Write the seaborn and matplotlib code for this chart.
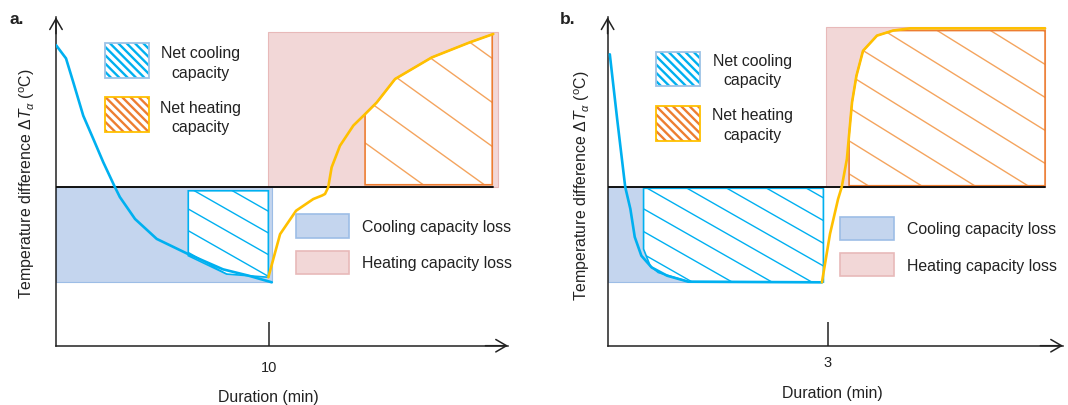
import numpy as np
import matplotlib
matplotlib.use("Agg")
import matplotlib.pyplot as plt
from matplotlib.patches import Polygon, Rectangle
from matplotlib.collections import LineCollection
import seaborn as sns

# ---------------- data (read off the schematic) ----------------
# panel a : 10 min cooling / heating switch
a_cool_t = [0, 0.47, 0.81, 1.28, 1.75, 2.22, 2.77, 3.0, 3.71, 4.73, 6.21, 7.84, 9.04, 10.13]
a_cool_T = [4.49, 4.07, 3.32, 2.26, 1.53, 0.79, 0.0, -0.31, -1.0, -1.63, -2.11, -2.59, -2.79, -3.0]
a_heat_t = [9.97, 10.52, 11.27, 12.08, 12.49, 12.63, 12.78, 12.94, 13.33, 13.96, 14.51,
            15.06, 15.92, 17.64, 19.44, 20.53]
a_heat_T = [-2.84, -1.48, -0.74, -0.37, -0.26, -0.21, 0.0, 0.63, 1.31, 1.95, 2.31,
            2.68, 3.42, 4.10, 4.58, 4.84]
a_switch = 10
a_end = 20.5
a_cool_min = -3.0
a_heat_max = 4.91
a_netcool_t = [6.21, 9.97]          # start / end of net cooling box
a_netcool_top = -0.11
a_netcool_low_t = [6.21, 8.01, 9.97]
a_netcool_low_T = [-2.16, -2.74, -2.84]
a_netheat_t = [14.51, 20.48]
a_netheat_bottom = 0.08
a_coolloss_t = [0, 10.13]
a_heatloss_t = [9.97, 20.75]

# panel b : 3 min cooling / heating switch
b_cool_t = [0.03, 0.13, 0.24, 0.31, 0.37, 0.46, 0.60, 0.81, 1.10, 2.92]
b_cool_T = [4.19, 2.15, 0.0, -0.69, -1.58, -2.17, -2.54, -2.80, -2.99, -3.01]
b_heat_t = [2.92, 3.03, 3.14, 3.19, 3.26, 3.33, 3.39, 3.48, 3.67, 3.89, 4.12, 5.96]
b_heat_T = [-3.01, -1.48, -0.38, 0.0, 0.88, 2.67, 3.51, 4.30, 4.78, 4.94, 5.01, 5.01]
b_switch = 3
b_end = 5.96
b_cool_min = -3.0
b_heat_max = 5.04
b_netcool_t = [0.49, 2.94]
b_netcool_top = -0.04
b_netcool_corner_t = [1.10, 0.69, 0.58, 0.49]
b_netcool_corner_T = [-2.99, -2.70, -2.49, -1.96]
b_netheat_t = [3.29, 5.96]
b_netheat_bottom = 0.04
b_netheat_top = 4.94
b_coolloss_t = [0, 2.94]
b_heatloss_t = [2.97, 5.96]

# ---------------- style ----------------
sns.set_theme(style="white")
plt.rcParams["font.family"] = ["Liberation Sans", "DejaVu Sans"]
plt.rcParams["mathtext.fontset"] = "custom"
plt.rcParams["mathtext.rm"] = "Liberation Sans"
plt.rcParams["mathtext.it"] = "Liberation Sans:italic"
plt.rcParams["hatch.linewidth"] = 1.7

BLUE = "#00B0F0"
GOLD = "#FFC000"
ORANGE = "#ED7D31"
ORANGE_H = "#F4A45E"
BLUE_FILL = "#C4D5EE"
BLUE_EDGE = "#9DBDE6"
PINK_FILL = "#F2D7D7"
PINK_EDGE = "#E8B9B9"
INK = "#222222"
FS = 11.4

W, H = 1068, 406
fig = plt.figure(figsize=(W / 100, H / 100), dpi=100)


def fx(px):
    return px / W


def fy(py):
    return 1 - py / H


def make_axes(left, right, top, bottom, xscale, zero_py, yscale):
    ax = fig.add_axes([fx(left), fy(bottom), (right - left) / W, (bottom - top) / H])
    ax.set_xlim(0, (right - left) / xscale)
    ax.set_ylim(-(bottom - zero_py) / yscale, (zero_py - top) / yscale)
    ax.set_facecolor("none")
    for s in ("top", "right"):
        ax.spines[s].set_visible(False)
    for s in ("left", "bottom"):
        ax.spines[s].set_color(INK)
        ax.spines[s].set_linewidth(1.1)
    for xy, xyt in (((0, 1), (0, 0.95)), ((1, 0), (0.95, 0))):
        ax.annotate("", xy=xy, xytext=xyt, xycoords="axes fraction",
                    arrowprops=dict(arrowstyle="->,head_length=0.55,head_width=0.32",
                                    lw=1.1, color=INK, shrinkA=0, shrinkB=0,
                                    mutation_scale=14), annotation_clip=False)
    return ax


def hatch_poly(ax, verts, slope, spacing_px, anchor, line_color, edge_color, lw=1.0):
    poly = Polygon(verts, closed=True, facecolor="white", edgecolor="none", zorder=2)
    ax.add_patch(poly)
    T = ax.transData
    d = T.transform(np.asarray(verts))
    x0, x1 = d[:, 0].min() - 5, d[:, 0].max() + 5
    axp, ayp = T.transform(anchor)
    segs = []
    for k in range(-60, 61):
        ya = ayp + k * spacing_px - slope * (x0 - axp)
        yb = ayp + k * spacing_px - slope * (x1 - axp)
        segs.append(T.inverted().transform([[x0, ya], [x1, yb]]))
    lc = LineCollection(segs, colors=line_color, linewidths=lw, zorder=2.5)
    ax.add_collection(lc)
    lc.set_clip_path(poly)
    ax.add_patch(Polygon(verts, closed=True, facecolor="none", edgecolor=edge_color,
                         lw=1.2, zorder=3))


def curve_poly(t, T, x0, x1, bottom, top=None):
    t = np.asarray(t, float)
    T = np.asarray(T, float)
    if top is not None:
        T = np.minimum(T, top)
    inside = (t > x0) & (t < x1)
    pts = [(x0, bottom), (x0, np.interp(x0, t, T))]
    pts += list(zip(t[inside], T[inside]))
    pts += [(x1, np.interp(x1, t, T)), (x1, bottom)]
    return pts


def legend_block(x_sw, ys_net, ys_loss, x_txt_net, y_txt_net, x_sw2, x_txt_loss, y_txt_loss):
    # net capacity swatches
    for (yt, yb), stripe, border in zip(ys_net, (BLUE, ORANGE), ("#9DC3E6", GOLD)):
        fig.patches.append(Rectangle((fx(x_sw[0]), fy(yb)), (x_sw[1] - x_sw[0]) / W,
                                     (yb - yt) / H, transform=fig.transFigure,
                                     facecolor="white", edgecolor=stripe, lw=0,
                                     hatch="\\\\\\\\", zorder=5))
        fig.patches.append(Rectangle((fx(x_sw[0]), fy(yb)), (x_sw[1] - x_sw[0]) / W,
                                     (yb - yt) / H, transform=fig.transFigure,
                                     facecolor="none", edgecolor=border, lw=1.3, zorder=6))
    for (y1, y2), word in zip(y_txt_net, ("Net cooling", "Net heating")):
        fig.text(fx(x_txt_net), fy(y1), word, ha="center", va="center", fontsize=FS, color=INK)
        fig.text(fx(x_txt_net), fy(y2), "capacity", ha="center", va="center", fontsize=FS,
                 color=INK)
    for (yt, yb), fc, ec in zip(ys_loss, (BLUE_FILL, PINK_FILL), (BLUE_EDGE, PINK_EDGE)):
        fig.patches.append(Rectangle((fx(x_sw2[0]), fy(yb)), (x_sw2[1] - x_sw2[0]) / W,
                                     (yb - yt) / H, transform=fig.transFigure,
                                     facecolor=fc, edgecolor=ec, lw=1.2, zorder=5))
    for y, word in zip(y_txt_loss, ("Cooling capacity loss", "Heating capacity loss")):
        fig.text(fx(x_txt_loss), fy(y), word, ha="left", va="center", fontsize=FS, color=INK)


def draw_panel(ax, cool_t, cool_T, heat_t, heat_T, switch, end, cool_min, heat_max,
               coolloss_t, heatloss_t, netcool_verts, netheat_verts, hatch_cool, hatch_heat):
    ax.add_patch(Rectangle((coolloss_t[0], cool_min), coolloss_t[1] - coolloss_t[0], -cool_min,
                           facecolor=BLUE_FILL, edgecolor=BLUE_EDGE, lw=0.8, zorder=1))
    ax.add_patch(Rectangle((heatloss_t[0], 0), heatloss_t[1] - heatloss_t[0], heat_max,
                           facecolor=PINK_FILL, edgecolor=PINK_EDGE, lw=0.8, zorder=1))
    hatch_poly(ax, netcool_verts, *hatch_cool, line_color=BLUE, edge_color=BLUE)
    hatch_poly(ax, netheat_verts, *hatch_heat, line_color=ORANGE_H, edge_color=ORANGE)
    ax.plot([0, end], [0, 0], color="#111111", lw=1.4, zorder=4)
    sns.lineplot(x=cool_t, y=cool_T, ax=ax, sort=False, estimator=None, color=BLUE, lw=1.9,
                 zorder=5)
    sns.lineplot(x=heat_t, y=heat_T, ax=ax, sort=False, estimator=None, color=GOLD, lw=1.9,
                 zorder=5)
    ax.set_yticks([])
    ax.set_xticks([switch])
    ax.set_xticklabels([str(switch)])
    ax.tick_params(axis="x", direction="in", length=17, width=1.1, color=INK,
                   labelsize=10.5, labelcolor=INK, bottom=True)
    ax.set_xlabel("Duration (min)", fontsize=FS, color=INK)
    ax.set_ylabel(r"Temperature difference $\Delta T_\alpha$ ($^{\mathrm{o}}$C)",
                  fontsize=FS, color=INK)
    ax.xaxis.label.set_visible(True)
    ax.yaxis.label.set_visible(True)


# ---------------- panel a ----------------
axa = make_axes(56, 508, 18.3, 346.7, 21.3, 188.3, 31.67)
a_netcool_verts = [(a_netcool_t[0], a_netcool_top), (a_netcool_t[1], a_netcool_top)] + \
    list(zip(a_netcool_low_t[::-1], a_netcool_low_T[::-1]))
a_netheat_verts = curve_poly(a_heat_t, a_heat_T, a_netheat_t[0], a_netheat_t[1], a_netheat_bottom)
draw_panel(axa, a_cool_t, a_cool_T, a_heat_t, a_heat_T, a_switch, a_end, a_cool_min, a_heat_max,
           a_coolloss_t, a_heatloss_t, a_netcool_verts, a_netheat_verts,
           (0.57, 21.7, (6.21, -0.685)), (0.72, 44.0, (20.48, 2.68)))
axa.tick_params(axis="x", pad=10)
axa.xaxis.set_label_coords((268 - 56) / 452, -(390 - 346.7) / 328.4)
axa.yaxis.set_label_coords((37 - 56) / 452, 0.497)

# ---------------- panel b ----------------
axb = make_axes(607.6, 1063, 18.3, 346.7, 73.4, 188.0, 31.67)
b_netcool_verts = [(b_netcool_t[0], b_netcool_top), (b_netcool_t[1], b_netcool_top),
                   (b_netcool_t[1], b_cool_min)] + \
    list(zip(b_netcool_corner_t, b_netcool_corner_T))
b_netheat_verts = curve_poly(b_heat_t, b_heat_T, b_netheat_t[0], b_netheat_t[1],
                             b_netheat_bottom, top=b_netheat_top)
draw_panel(axb, b_cool_t, b_cool_T, b_heat_t, b_heat_T, b_switch, b_end, b_cool_min, b_heat_max,
           b_coolloss_t, b_heatloss_t, b_netcool_verts, b_netheat_verts,
           (0.57, 22.7, (0.49, -0.69)), (0.62, 33.0, (5.96, 2.83)))
axb.tick_params(axis="x", pad=6.5)
axb.xaxis.set_label_coords((832 - 607.6) / 455.4, -(386 - 346.7) / 328.4)
axb.yaxis.set_label_coords((592 - 607.6) / 455.4, 0.49)

# ---------------- legends (schematic keys) ----------------
legend_block((105, 149.3), [(44, 79), (98.3, 133.3)], [(215, 239), (251.7, 275)],
             200.5, [(54, 73.3), (108.3, 127.3)], (296, 349.3), 361.7, (227.7, 263.3))
legend_block((656.3, 700), [(52.7, 87.3), (107.3, 141.7)], [(218.3, 240.7), (254, 277.3)],
             752.5, [(61.7, 81), (115.7, 135.7)], (839.8, 893.6), 906.6, (230, 266.7))

fig.text(fx(9), fy(19), "a.", fontsize=12.5, fontweight="bold", ha="left", va="center", color=INK)
fig.text(fx(560), fy(20), "b.", fontsize=12.5, fontweight="bold", ha="left", va="center",
         color=INK)

fig.savefig("out.png", dpi=100)
